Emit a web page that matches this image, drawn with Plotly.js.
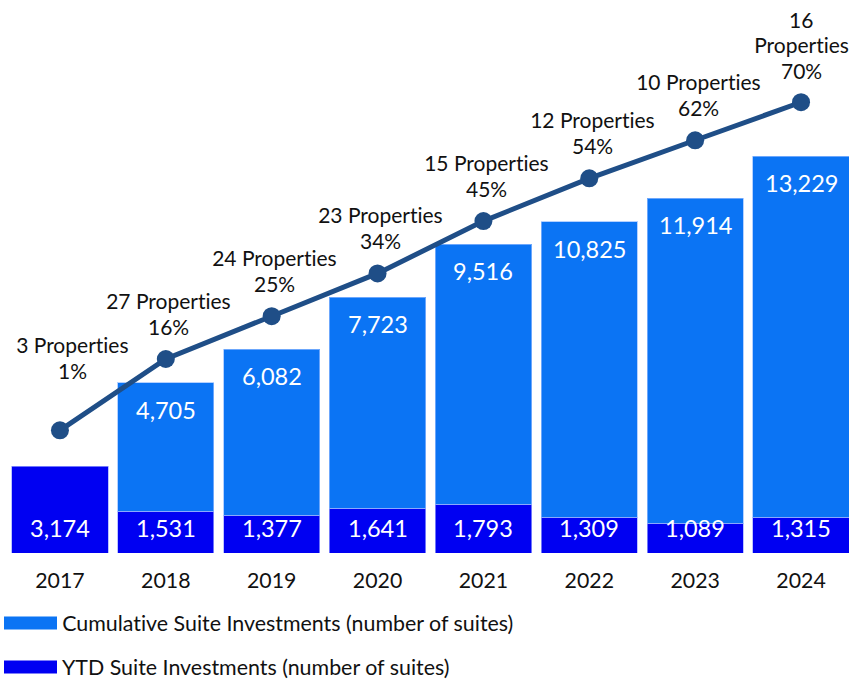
<!DOCTYPE html>
<html>
<head>
<meta charset="utf-8">
<script src="https://cdn.plot.ly/plotly-3.0.1.min.js"></script>
<style>html,body{margin:0;padding:0;background:#fff;}#chart{width:849px;height:680px;}
#chart svg text{font-variant-ligatures:none;font-feature-settings:"liga" 0,"clig" 0;}</style>
</head>
<body>
<div id="chart"></div>
<script>
const years = ['2017','2018','2019','2020','2021','2022','2023','2024'];
const ytdSuites = [3174, 1531, 1377, 1641, 1793, 1309, 1089, 1315];
const cumulativeSuites = [null, 4705, 6082, 7723, 9516, 10825, 11914, 13229];
const propertyCounts = [3, 27, 24, 23, 15, 12, 10, 16];
const sharePct = [1, 16, 25, 34, 45, 54, 62, 70];

const FONT = 'Lato, "Open Sans", sans-serif';
const fmt = v => v.toLocaleString('en-US');

const traces = [
  {
    type: 'bar', x: years, y: ytdSuites, name: 'YTD Suite Investments (number of suites)',
    marker: {color: '#0000F2', line: {color: 'rgba(160,170,255,0.7)', width: 1}},
    hoverinfo: 'skip', showlegend: false
  },
  {
    type: 'bar', x: years, y: cumulativeSuites, name: 'Cumulative Suite Investments (number of suites)',
    marker: {color: '#0B74F4', line: {color: 'rgba(150,190,255,0.7)', width: 1}},
    hoverinfo: 'skip', showlegend: false
  },
  {
    type: 'scatter', mode: 'lines+markers', x: years, y: sharePct, yaxis: 'y2',
    line: {color: '#1F4E87', width: 5}, marker: {color: '#1F4E87', size: 18},
    hoverinfo: 'skip', showlegend: false
  }
];

const annotations = [];
const labelFont = {family: FONT, size: 21, color: '#111111'};
const barFont = {family: FONT, size: 23.5, color: '#ffffff'};
years.forEach((yr, i) => {
  // category axis: annotations are placed by category index
  annotations.push({
    x: i, y: 0, xref: 'x', yref: 'y', text: fmt(ytdSuites[i]), showarrow: false,
    yanchor: 'middle', yshift: 25, font: barFont
  });
  if (cumulativeSuites[i] != null) {
    annotations.push({
      x: i, y: ytdSuites[i] + cumulativeSuites[i], xref: 'x', yref: 'y', text: fmt(cumulativeSuites[i]),
      showarrow: false, yanchor: 'middle', yshift: -27, font: barFont
    });
  }
  const last = i === years.length - 1;
  const lines = last
    ? [String(propertyCounts[i]), 'Properties', sharePct[i] + '%']
    : [propertyCounts[i] + ' Properties', sharePct[i] + '%'];
  const base = i === 0 ? 60 : (last ? 32 : 33);
  const dx = i === 0 ? 13 : (last ? 0 : 3);
  lines.forEach((t, k) => {
    const fromBottom = lines.length - 1 - k;
    annotations.push({
      x: i, y: sharePct[i], xref: 'x', yref: 'y2', text: t, showarrow: false,
      yanchor: 'middle', xshift: dx, yshift: base + fromBottom * 25.5, font: labelFont
    });
  });
});

// custom legend (wide swatches)
const legendItems = [
  {text: 'Cumulative Suite Investments (number of suites)', color: '#0B74F4', yc: 623},
  {text: 'YTD Suite Investments (number of suites)', color: '#0000F2', yc: 667}
];
const shapes = [];
legendItems.forEach(it => {
  shapes.push({type: 'rect', xref: 'paper', yref: 'paper',
    x0: (4 - 7) / 842, x1: (57 - 7) / 842, y0: (553 - it.yc + 6.5) / 553, y1: (553 - it.yc - 6.5) / 553,
    fillcolor: it.color, line: {width: 0}});
  annotations.push({xref: 'paper', yref: 'paper', x: (60 - 7) / 842, y: (553 - it.yc) / 553,
    xanchor: 'left', yanchor: 'middle', showarrow: false, text: it.text,
    font: {family: FONT, size: 21.4, color: '#111111'}});
});

const layout = {
  width: 849, height: 680,
  margin: {l: 7, r: 0, t: 0, b: 127},
  paper_bgcolor: '#ffffff', plot_bgcolor: '#ffffff',
  barmode: 'stack', bargap: 0.09,
  font: {family: FONT, color: '#111111'},
  xaxis: {type: 'category', range: [-0.5, 7.453], showgrid: false, zeroline: false, showline: false,
    ticks: '', ticklabelstandoff: 13, tickfont: {family: FONT, size: 21.3, color: '#111111'}, fixedrange: true},
  yaxis: {range: [0, 20259], visible: false, showgrid: false, zeroline: false, fixedrange: true},
  yaxis2: {range: [-24.8, 91.5], overlaying: 'y', side: 'right', visible: false, showgrid: false, zeroline: false},
  annotations: annotations,
  shapes: shapes,
  showlegend: false
};

Plotly.newPlot('chart', traces, layout, {displayModeBar: false, staticPlot: true});
</script>
</body>
</html>
